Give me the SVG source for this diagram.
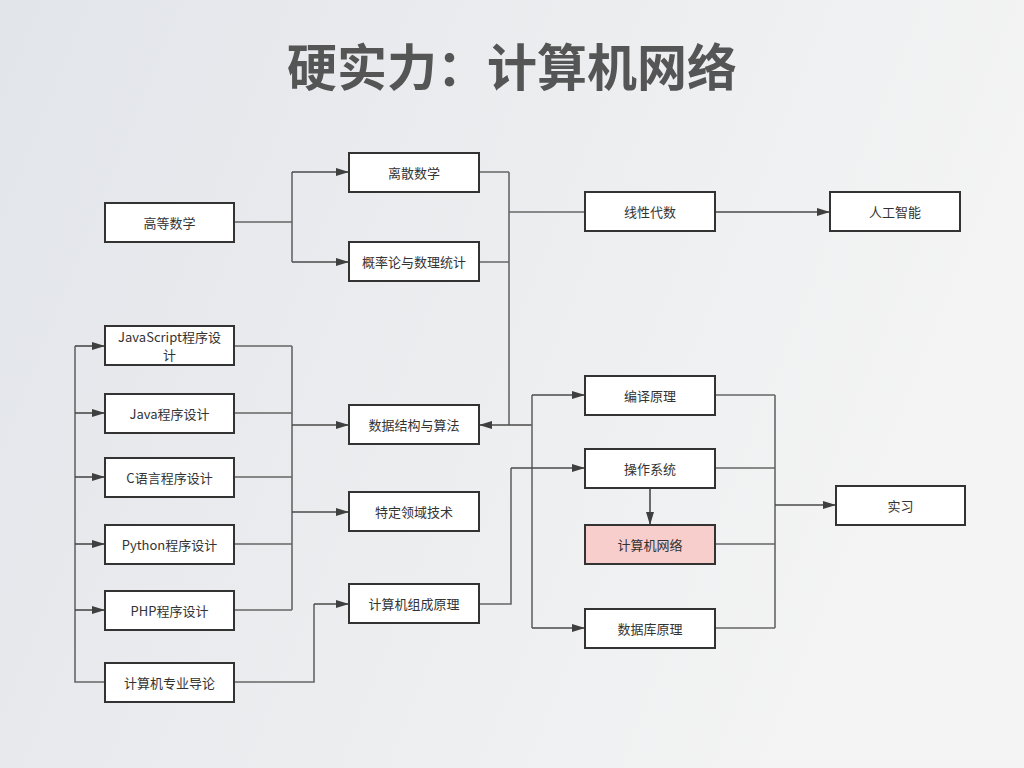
<svg xmlns="http://www.w3.org/2000/svg" width="1024" height="768" viewBox="0 0 1024 768">
<defs>
<linearGradient id="bg" x1="0" y1="0" x2="1" y2="0.3">
<stop offset="0" stop-color="#e2e5ea"/>
<stop offset="1" stop-color="#f4f4f4"/>
</linearGradient>
<marker id="arr" viewBox="0 0 13 8" refX="13" refY="4" markerWidth="13" markerHeight="8" markerUnits="userSpaceOnUse" orient="auto">
<path d="M0,0 L13,4 L0,8 z" fill="#3f3f3f"/>
</marker>
<style>
.box{fill:#ffffff;stroke:#333333;stroke-width:2}
.pink{fill:#f8cecc}
.lbl{font-family:"Noto Sans CJK SC","Noto Sans",sans-serif;font-size:13px;fill:#333333;text-anchor:middle;dominant-baseline:central}
.ttl{font-family:"Noto Sans CJK SC","Noto Sans",sans-serif;font-size:50px;font-weight:bold;fill:#555555;text-anchor:middle;dominant-baseline:central}
.c{fill:none;stroke:#666666;stroke-width:1.6}
.a{fill:none;stroke:#4a4a4a;stroke-width:1.6;marker-end:url(#arr)}
</style>
</defs>
<rect width="1024" height="768" fill="url(#bg)"/>
<text class="ttl" x="512" y="64">硬实力：计算机网络</text>

<g id="connectors">
<path class="c" d="M234,222 H292 M292,172 V262"/>
<path class="a" d="M292,172 H349"/>
<path class="a" d="M292,262 H349"/>
<path class="c" d="M479,172 H509 M479,262 H509 M509,172 V425"/>
<path class="c" d="M509,212 H585"/>
<path class="a" d="M715,212 H830"/>
<path class="a" d="M532,425 H479"/>
<path class="c" d="M532,395 V628"/>
<path class="a" d="M532,395 H585"/>
<path class="a" d="M532,628 H585"/>
<path class="c" d="M75,346 V682 H105"/>
<path class="a" d="M75,346 H105"/>
<path class="a" d="M75,413 H105"/>
<path class="a" d="M75,477 H105"/>
<path class="a" d="M75,544 H105"/>
<path class="a" d="M75,610 H105"/>
<path class="c" d="M234,346 H292 M234,413 H292 M234,477 H292 M234,544 H292 M234,610 H292 M292,346 V610"/>
<path class="a" d="M292,425 H349"/>
<path class="a" d="M292,512 H349"/>
<path class="c" d="M234,682 H314 V604"/>
<path class="a" d="M314,604 H349"/>
<path class="c" d="M479,604 H511 V468"/>
<path class="a" d="M511,468 H585"/>
<path class="a" d="M650,488 V525"/>
<path class="c" d="M715,395 H775 M715,468 H775 M715,544 H775 M715,628 H775 M775,395 V628"/>
<path class="a" d="M775,505 H836"/>
</g>

<g id="n-gaodeng"><rect class="box" x="105" y="203" width="129" height="39"/><text class="lbl" x="169.5" y="222">高等数学</text></g>
<g id="n-lisan"><rect class="box" x="349" y="153" width="130" height="39"/><text class="lbl" x="414" y="172">离散数学</text></g>
<g id="n-gailv"><rect class="box" x="349" y="242" width="130" height="39"/><text class="lbl" x="414" y="261">概率论与数理统计</text></g>
<g id="n-xianxing"><rect class="box" x="585" y="192" width="130" height="39"/><text class="lbl" x="650" y="211">线性代数</text></g>
<g id="n-ai"><rect class="box" x="830" y="192" width="130" height="39"/><text class="lbl" x="895" y="211">人工智能</text></g>
<g id="n-js"><rect class="box" x="105" y="326" width="129" height="39"/><text class="lbl" x="169.5" y="336.5">JavaScript程序设</text><text class="lbl" x="169.5" y="354">计</text></g>
<g id="n-java"><rect class="box" x="105" y="394" width="129" height="39"/><text class="lbl" x="169.5" y="413">Java程序设计</text></g>
<g id="n-c"><rect class="box" x="105" y="458" width="129" height="39"/><text class="lbl" x="169.5" y="477">C语言程序设计</text></g>
<g id="n-python"><rect class="box" x="105" y="525" width="129" height="39"/><text class="lbl" x="169.5" y="544">Python程序设计</text></g>
<g id="n-php"><rect class="box" x="105" y="591" width="129" height="39"/><text class="lbl" x="169.5" y="610">PHP程序设计</text></g>
<g id="n-intro"><rect class="box" x="105" y="663" width="129" height="39"/><text class="lbl" x="169.5" y="682">计算机专业导论</text></g>
<g id="n-ds"><rect class="box" x="349" y="405" width="130" height="39"/><text class="lbl" x="414" y="424">数据结构与算法</text></g>
<g id="n-domain"><rect class="box" x="349" y="492" width="130" height="39"/><text class="lbl" x="414" y="511">特定领域技术</text></g>
<g id="n-zucheng"><rect class="box" x="349" y="584" width="130" height="39"/><text class="lbl" x="414" y="603">计算机组成原理</text></g>
<g id="n-bianyi"><rect class="box" x="585" y="376" width="130" height="39"/><text class="lbl" x="650" y="395">编译原理</text></g>
<g id="n-os"><rect class="box" x="585" y="449" width="130" height="39"/><text class="lbl" x="650" y="468">操作系统</text></g>
<g id="n-net"><rect class="box pink" x="585" y="525" width="130" height="39"/><text class="lbl" x="650" y="544">计算机网络</text></g>
<g id="n-db"><rect class="box" x="585" y="609" width="130" height="39"/><text class="lbl" x="650" y="628">数据库原理</text></g>
<g id="n-intern"><rect class="box" x="836" y="486" width="129" height="39"/><text class="lbl" x="900.5" y="505">实习</text></g>
</svg>
